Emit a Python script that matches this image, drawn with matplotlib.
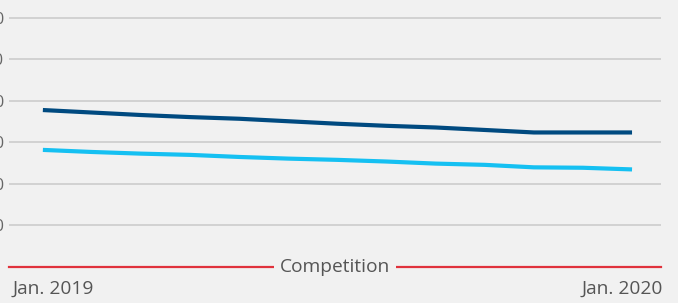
import matplotlib.pyplot as plt
import numpy as np

months = ["Jan. 2019", "Feb.", "Mar.", "Apr.", "May", "Jun.", "Jul.",
          "Aug.", "Sep.", "Oct.", "Nov.", "Dec.", "Jan. 2020"]
dark_series = [37.8, 37.2, 36.6, 36.1, 35.7, 35.1, 34.5, 34.0, 33.6, 33.0, 32.4, 32.4, 32.4]
light_series = [28.2, 27.7, 27.3, 27.0, 26.5, 26.1, 25.8, 25.4, 24.9, 24.6, 24.0, 23.9, 23.5]
y_ticks = [10, 20, 30, 40, 50, 60]
competition_level = 0

bg = "#f1f1f1"
plt.rcParams['font.family'] = ['Open Sans', 'DejaVu Sans']

fig = plt.figure(figsize=(6.78, 3.03), dpi=100, facecolor=bg)
W, H = 678, 303
ax = fig.add_axes([9 / W, (H - 267) / H, (661 - 9) / W, 267 / H])
ax.set_facecolor(bg)

x = np.arange(len(months))
ax.plot(x, dark_series, color="#004a80", lw=3, solid_capstyle="butt", zorder=3)
ax.plot(x, light_series, color="#15c0f2", lw=3, solid_capstyle="butt", zorder=3)

ax.set_xlim(-0.69, len(months) - 1 + 0.59)
ax.set_ylim(0, 64.3)
ax.set_yticks(y_ticks)
ax.set_yticklabels([str(v) for v in y_ticks])
ax.tick_params(axis="y", length=0, pad=3.2, labelsize=12, labelcolor="#666666")
ax.set_xticks([])
ax.grid(axis="y", color="#cccccc", lw=1.2)
ax.set_axisbelow(True)
for s in ax.spines.values():
    s.set_visible(False)

# competition reference line
ax.axhline(competition_level, color="#e0323c", lw=1.6, clip_on=False, zorder=2)
ax.text(0.5, competition_level, "Competition", transform=ax.get_yaxis_transform(),
        ha="center", va="center", fontsize=13.8, color="#555555", zorder=4,
        bbox=dict(facecolor=bg, edgecolor="none", pad=4))

fig.text(13 / W, 1 - 289 / H, months[0], ha="left", va="center", fontsize=13.8, color="#555555")
fig.text(663 / W, 1 - 289 / H, months[-1], ha="right", va="center", fontsize=13.8, color="#555555")

fig.savefig("out.png", dpi=100, facecolor=bg)
